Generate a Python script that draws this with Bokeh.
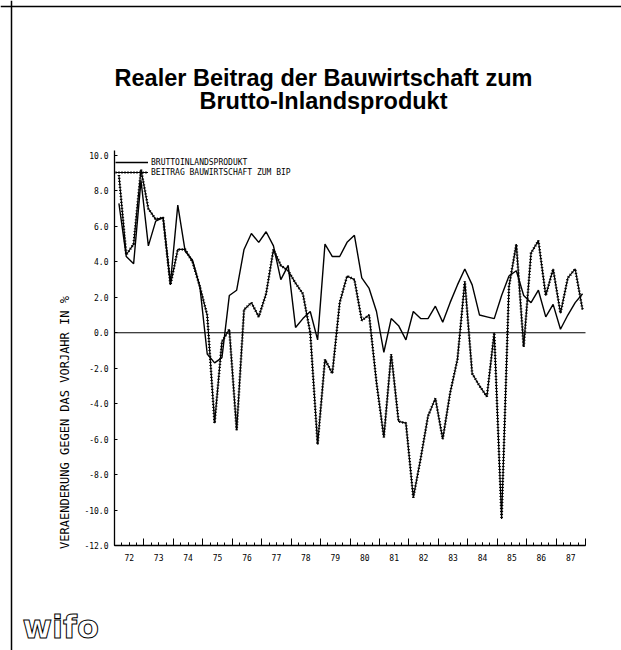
import math
from bokeh.plotting import figure
from bokeh.models import (Range1d, FixedTicker, PrintfTickFormatter, LinearAxis, Span,
                          Label, Legend, LegendItem)
from bokeh.embed import file_html
from bokeh.resources import INLINE

# ---- data (quarterly, 1972 Q1 .. 1987 Q4), % change vs. previous year ----
start_year = 1972
bip = [7.3, 4.3, 3.9, 8.6, 4.9, 6.3, 6.5, 2.8,
       7.2, 4.6, 4.1, 2.6, -1.2, -1.7, -1.4, 2.1,
       2.4, 4.7, 5.6, 5.1, 5.7, 4.9, 3.0, 3.8,
       0.3, 0.8, 1.2, -0.4, 5.0, 4.3, 4.3, 5.1,
       5.5, 3.1, 2.5, 1.2, -1.1, 0.8, 0.4, -0.4,
       1.2, 0.8, 0.8, 1.5, 0.6, 1.7, 2.7, 3.6,
       2.7, 1.0, 0.9, 0.8, 2.1, 3.2, 3.5, 2.1,
       1.7, 2.4, 0.9, 1.6, 0.2, 1.0, 1.7, 2.2]
bau = [8.9, 4.4, 5.0, 9.2, 7.0, 6.4, 6.5, 2.7,
       4.7, 4.7, 4.0, 2.6, 1.0, -5.1, -0.5, 0.2,
       -5.5, 1.3, 1.7, 0.9, 2.2, 4.7, 3.8, 3.5,
       2.8, 2.2, 0.0, -6.3, -1.5, -2.3, 1.7, 3.2,
       3.0, 0.7, 1.0, -2.8, -5.9, -1.2, -5.0, -5.1,
       -9.3, -7.1, -4.7, -3.7, -6.0, -3.4, -1.5, 2.9,
       -2.3, -3.0, -3.6, 0.0, -10.5, 2.6, 5.0, -0.8,
       4.5, 5.2, 2.1, 3.6, 1.1, 3.1, 3.6, 1.3]
year_labels = ["72", "73", "74", "75", "76", "77", "78", "79",
               "80", "81", "82", "83", "84", "85", "86", "87"]
y_ticks = [-12, -10, -8, -6, -4, -2, 0, 2, 4, 6, 8, 10]
series_names = ["BRUTTOINLANDSPRODUKT", "BEITRAG BAUWIRTSCHAFT ZUM BIP"]
title_lines = ["Realer Beitrag der Bauwirtschaft zum", "Brutto-Inlandsprodukt"]
y_label = "VERAENDERUNG GEGEN DAS VORJAHR IN %"
logo_text = "wifo"

t = [start_year + (i + 0.6) / 4 for i in range(len(bip))]
n_years = len(year_labels)
end_year = start_year + n_years
y_min, y_max, y_axis_top = -12, 10, 10.3

# ---- layout (canvas pixels) ----
W, H = 621, 650
left_px, right_px = 114, 585        # where start_year / end_year fall
ymin_px, ymax_px = 545, 155          # where y_min / y_max fall (from top)
ppx = (right_px - left_px) / n_years
ppy = (ymin_px - ymax_px) / (y_max - y_min)
x_lo = start_year - left_px / ppx
x_hi = end_year + (W - right_px) / ppx
y_hi = y_max + ymax_px / ppy
y_lo = y_min - (H - ymin_px) / ppy

mono = "DejaVu Sans Mono"

p = figure(width=W, height=H, output_backend="svg", toolbar_location=None,
           x_range=Range1d(x_lo, x_hi), y_range=Range1d(y_lo, y_hi),
           min_border=0, x_axis_location=None, y_axis_location=None)
p.grid.visible = False
p.outline_line_color = None
p.background_fill_color = "white"
p.border_fill_color = "white"

# page frame lines (left and top)
p.add_layout(Span(location=x_lo + 11 / ppx, dimension="height", line_color="black", line_width=1.5))
p.add_layout(Span(location=y_hi - 6 / ppy, dimension="width", line_color="black", line_width=1.5))

# y axis
yax = LinearAxis(fixed_location=start_year, bounds=(y_min, y_axis_top),
                 ticker=FixedTicker(ticks=y_ticks),
                 formatter=PrintfTickFormatter(format="%.1f"),
                 major_tick_in=3, major_tick_out=0,
                 minor_tick_line_color=None,
                 axis_line_color="black", axis_line_width=1.3,
                 major_tick_line_color="black",
                 major_label_text_font=mono, major_label_text_font_size="8px",
                 major_label_text_color="black", major_label_standoff=6)
p.add_layout(yax, "left")

# x axis: labels at mid-year, small ticks each quarter
mid_years = [start_year + k + 0.5 for k in range(n_years)]
quarter_marks = [start_year + q / 4 for q in range(0, n_years * 4 + 1)]
xax = LinearAxis(fixed_location=y_min, bounds=(start_year, end_year),
                 ticker=FixedTicker(ticks=mid_years, minor_ticks=quarter_marks),
                 major_label_overrides={m: lab for m, lab in zip(mid_years, year_labels)},
                 major_tick_in=3, major_tick_out=0, minor_tick_in=3, minor_tick_out=0,
                 axis_line_color="black", axis_line_width=1.3,
                 major_tick_line_color="black", minor_tick_line_color="black",
                 major_label_text_font=mono, major_label_text_font_size="8px",
                 major_label_text_color="black", major_label_standoff=8)
p.add_layout(xax, "below")

# taller ticks at year boundaries
boundaries = [start_year + k for k in range(n_years + 1)]
xax2 = LinearAxis(fixed_location=y_min, bounds=(start_year, end_year),
                  ticker=FixedTicker(ticks=boundaries),
                  major_label_overrides={b: "" for b in boundaries},
                  major_tick_in=7, major_tick_out=0, axis_line_color=None,
                  minor_tick_line_color=None, major_tick_line_color="black")
p.add_layout(xax2, "below")

# zero line across the time axis
p.segment(x0=[start_year], y0=[0], x1=[end_year], y1=[0], line_color="black", line_width=1.2)

r_bip = p.line(t, bip, line_color="black", line_width=1.4)
r_bau = p.line(t, bau, line_color="black", line_width=1.2)
r_bau_dots = p.line(t, bau, line_color="black", line_width=2.6, line_dash="1 2")

legend = Legend(items=[LegendItem(label=series_names[0], renderers=[r_bip]),
                       LegendItem(label=series_names[1], renderers=[r_bau, r_bau_dots])],
                location=(left_px + 1, H - 177), glyph_width=33, glyph_height=10,
                label_height=10, label_standoff=3, spacing=0, padding=0, margin=0,
                border_line_color=None, background_fill_alpha=0,
                label_text_font=mono, label_text_font_size="8px",
                label_text_color="black")
p.add_layout(legend)

for txt, base in zip(title_lines, [77, 100]):
    p.add_layout(Label(x=323, y=H - base, x_units="screen", y_units="screen", text=txt,
                       text_font="Liberation Sans", text_font_style="bold",
                       text_font_size="23.5px", text_align="center",
                       text_baseline="alphabetic", text_color="black"))

p.add_layout(Label(x=64, y=H - 422, x_units="screen", y_units="screen", text=y_label,
                   angle=math.pi / 2, text_font=mono, text_font_size="12px",
                   text_align="center", text_baseline="middle", text_color="black"))

p.add_layout(Label(x=22, y=H - 645, x_units="screen", y_units="screen", text=logo_text,
                   text_font="DejaVu Sans", text_font_style="bold", text_font_size="32px",
                   text_color="white", text_outline_color="black",
                   text_align="left", text_baseline="bottom"))

open("out.html", "w").write(file_html(p, INLINE))
